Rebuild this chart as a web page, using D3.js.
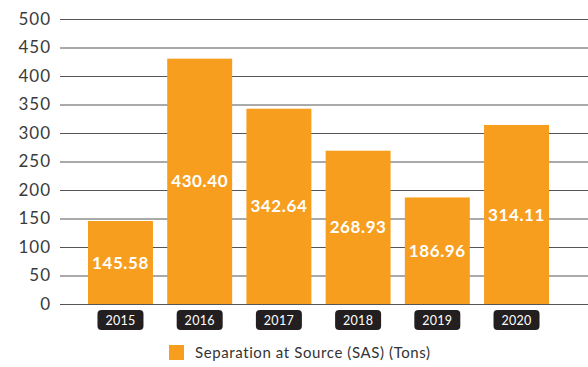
<!DOCTYPE html>
<html>
<head>
<meta charset="utf-8">
<script src="https://cdn.jsdelivr.net/npm/d3@7"></script>
<style>
  html, body { margin: 0; padding: 0; background: #fff; }
  svg { display: block; font-family: Lato, "Open Sans", sans-serif; }
</style>
</head>
<body>
<svg id="chart" width="588" height="367"></svg>
<script>
// Separation at Source (SAS), tons per year
const years = ["2015", "2016", "2017", "2018", "2019", "2020"];
const sasTons = [145.58, 430.40, 342.64, 268.93, 186.96, 314.11];
const yTicks = [0, 50, 100, 150, 200, 250, 300, 350, 400, 450, 500];
const legendLabel = "Separation at Source (SAS) (Tons)";

const svg = d3.select("#chart");
const W = 588;
const gridLeft = 60;
const barColor = "#f79e1e";

const y = d3.scaleLinear().domain([0, 500]).range([304, 19]);
const x = d3.scaleBand().domain(years).range([88, 549]).paddingInner(0.18).paddingOuter(0);

// horizontal gridlines with tick labels
const yAxis = d3.axisLeft(y).tickValues(yTicks).tickSize(0).tickPadding(9);
const gAxis = svg.append("g").attr("transform", `translate(${gridLeft},0)`).call(yAxis);
gAxis.select(".domain").remove();
gAxis.selectAll(".tick text")
  .attr("fill", "#3a3a3a")
  .style("font-size", "17px")
  .style("letter-spacing", "1px")
  .style("font-family", "Lato, sans-serif");
gAxis.selectAll(".tick line")
  .attr("x2", W - gridLeft)
  .attr("stroke", "#555")
  .attr("stroke-width", 1);

// bars
const bars = svg.append("g").selectAll("g")
  .data(years.map((yr, i) => ({ yr, v: sasTons[i] })))
  .join("g");

bars.append("rect")
  .attr("x", d => x(d.yr))
  .attr("y", d => y(d.v))
  .attr("width", x.bandwidth())
  .attr("height", d => y(0) - y(d.v))
  .attr("fill", barColor);

// value labels centered inside each bar
bars.append("text")
  .attr("x", d => x(d.yr) + x.bandwidth() / 2)
  .attr("y", d => (y(d.v) + y(0)) / 2)
  .attr("dy", "0.36em")
  .attr("text-anchor", "middle")
  .attr("fill", "#fff")
  .style("font-size", "17px")
  .style("letter-spacing", "0.6px")
  .style("font-weight", "700")
  .text(d => d.v.toFixed(2));

// year pills below the baseline
const pills = svg.append("g").selectAll("g")
  .data(years)
  .join("g")
  .attr("transform", d => `translate(${x(d) + x.bandwidth() / 2},320)`);

pills.append("rect")
  .attr("x", -23)
  .attr("y", -10)
  .attr("width", 46)
  .attr("height", 20)
  .attr("rx", 4)
  .attr("fill", "#231f20");

pills.append("text")
  .attr("text-anchor", "middle")
  .attr("dy", "0.36em")
  .attr("fill", "#fff")
  .style("font-size", "12.5px")
  .style("letter-spacing", "0.3px")
  .text(d => d);

// legend
const legend = svg.append("g").attr("transform", "translate(169,345)");
legend.append("rect").attr("width", 15).attr("height", 15).attr("fill", barColor);
legend.append("text")
  .attr("x", 26)
  .attr("y", 8)
  .attr("dy", "0.36em")
  .attr("fill", "#333")
  .style("font-size", "15px")
  .style("letter-spacing", "0.6px")
  .text(legendLabel);
</script>
</body>
</html>
